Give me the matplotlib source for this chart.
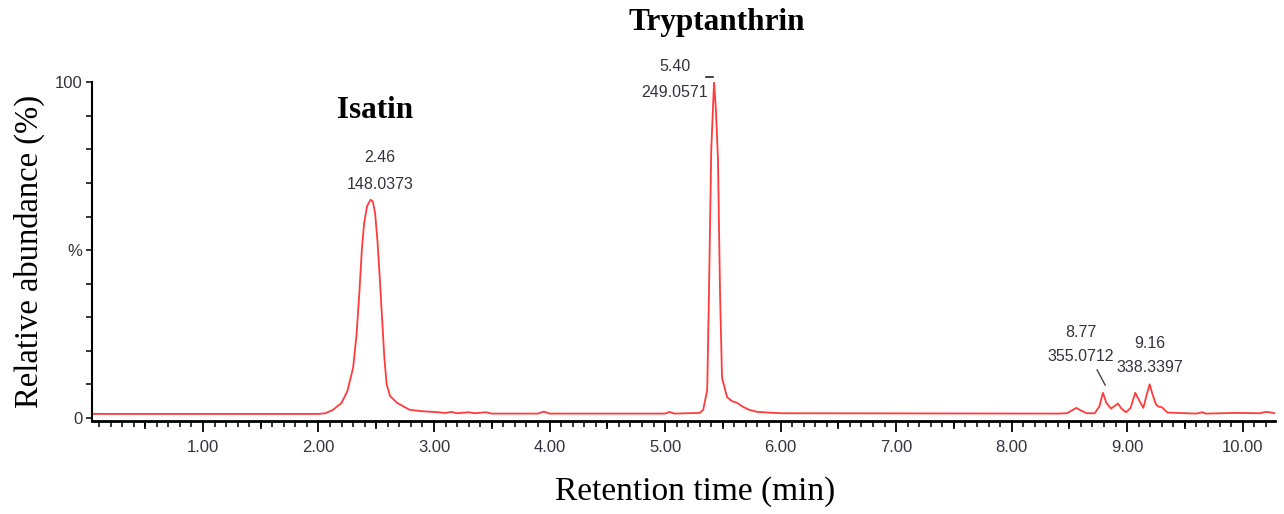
import matplotlib
matplotlib.use('Agg')
from matplotlib import pyplot as plt
from matplotlib.ticker import MultipleLocator

# retention time (min) and relative abundance (%)
times = [0.04, 1.00, 2.00, 2.06, 2.125, 2.20, 2.25, 2.30, 2.33, 2.355, 2.375, 2.395,
         2.42, 2.45, 2.47, 2.49, 2.51, 2.53, 2.55, 2.57, 2.59, 2.62, 2.68, 2.79,
         2.90, 2.99, 3.10, 3.15, 3.20, 3.30, 3.35, 3.45, 3.50, 3.90, 3.95, 4.00,
         5.00, 5.04, 5.08, 5.30, 5.33, 5.365, 5.38, 5.40, 5.424, 5.44, 5.458,
         5.476, 5.493, 5.537, 5.58, 5.623, 5.675, 5.73, 5.80, 6.00, 8.40, 8.48,
         8.52, 8.56, 8.60, 8.65, 8.72, 8.76, 8.79, 8.82, 8.86, 8.89, 8.92, 8.95,
         8.99, 9.03, 9.07, 9.10, 9.14, 9.17, 9.195, 9.22, 9.25, 9.27, 9.30, 9.35,
         9.60, 9.65, 9.68, 9.95, 10.15, 10.20, 10.25, 10.28]
abundance = [1.2, 1.2, 1.2, 1.4, 2.4, 4.5, 8, 15, 25, 38, 50, 58,
             63, 65, 64.5, 61, 53, 42, 30, 18, 10, 6.5, 4.5, 2.4,
             2.0, 1.8, 1.5, 1.8, 1.4, 1.7, 1.4, 1.7, 1.3, 1.3, 1.9, 1.3,
             1.3, 1.8, 1.3, 1.5, 2.4, 8.3, 37, 80, 100, 92, 77,
             37, 12, 6.2, 5.0, 4.5, 3.3, 2.4, 1.8, 1.4, 1.3, 1.4,
             2.2, 3.0, 2.2, 1.4, 1.4, 3.5, 7.5, 4.5, 2.8, 3.5, 4.3, 2.8,
             1.7, 3.0, 7.5, 5.5, 3.0, 7.0, 10.0, 7.0, 4.0, 3.4, 3.2, 1.6,
             1.3, 1.7, 1.3, 1.5, 1.4, 1.8, 1.6, 1.4]

# peak labels: (text x, rt line y, m/z line y, rt, m/z)
peak_labels = [
    (2.53, 77.7, 69.6, '2.46', '148.0373'),
    (5.085, 104.8, 97.0, '5.40', '249.0571'),
    (8.60, 25.6, 18.2, '8.77', '355.0712'),
    (9.20, 22.3, 14.9, '9.16', '338.3397'),
]
compounds = [(2.49, 91.7, 'Isatin'), (5.45, 117.9, 'Tryptanthrin')]

sans = ['Liberation Sans', 'DejaVu Sans']
serif = ['Liberation Serif', 'DejaVu Serif']
label_color = '#33333f'

fig = plt.figure(figsize=(12.84, 5.14), dpi=100)
ax = fig.add_axes([0.0717, 0.181, 0.9213, 0.659])

ax.plot(times, abundance, c='#ff3b3b', lw=1.3)

ax.set_xlim(0.04, 10.28)
ax.set_ylim(-0.9, 100)

for side in ['top', 'right']:
    ax.spines[side].set_visible(False)
ax.spines['bottom'].set_linewidth(2.0)
ax.spines['left'].set_linewidth(1.5)

# x ticks: labelled every minute, longer at half minutes, short every 0.1
ax.set_xticks([1, 2, 3, 4, 5, 6, 7, 8, 9, 10])
ax.set_xticklabels(['%.2f' % v for v in range(1, 11)])
ax.xaxis.set_minor_locator(MultipleLocator(0.1))
ax.tick_params(axis='x', which='major', length=8, width=1.3, direction='out',
               pad=6, labelsize=12, labelcolor=label_color)
ax.tick_params(axis='x', which='minor', length=4.5, width=1.1, direction='out')
half = [v + 0.5 for v in range(0, 10)]
ax.vlines(half, -0.025, 0, color='black', lw=1.2, clip_on=False,
          transform=ax.get_xaxis_transform())

ax.set_yticks([0, 50, 100])
ax.set_yticklabels(['0', '%', '100'])
ax.yaxis.set_minor_locator(MultipleLocator(10))
ax.tick_params(axis='y', which='both', length=4, width=1.1, direction='out',
               pad=3, labelsize=12, labelcolor=label_color)
for lab in ax.get_xticklabels() + ax.get_yticklabels():
    lab.set_family(sans)

for x, y1, y2, rt, mz in peak_labels:
    ax.text(x, y1, rt, ha='center', va='center', fontsize=11.5,
            color=label_color, family=sans, clip_on=False)
    ax.text(x, y2, mz, ha='center', va='center', fontsize=11.5,
            color=label_color, family=sans, clip_on=False)

# leader to the 8.77 peak and the apex marker of the 5.40 peak
ax.plot([8.74, 8.81], [14.3, 9.8], c='#444444', lw=1.0, clip_on=False)
ax.plot([5.355, 5.415], [101.5, 101.5], c='#222222', lw=1.2, clip_on=False)

for x, y, name in compounds:
    ax.text(x, y, name, ha='center', va='center', fontsize=22.5,
            fontweight='bold', family=serif, clip_on=False)

fig.text(0.541, 0.043, 'Retention time (min)', ha='center', va='center',
         fontsize=24, family=serif)
fig.text(0.023, 0.51, 'Relative abundance (%)', ha='center', va='center',
         rotation=90, fontsize=23.5, family=serif)

plt.savefig('out.png', dpi=100)
